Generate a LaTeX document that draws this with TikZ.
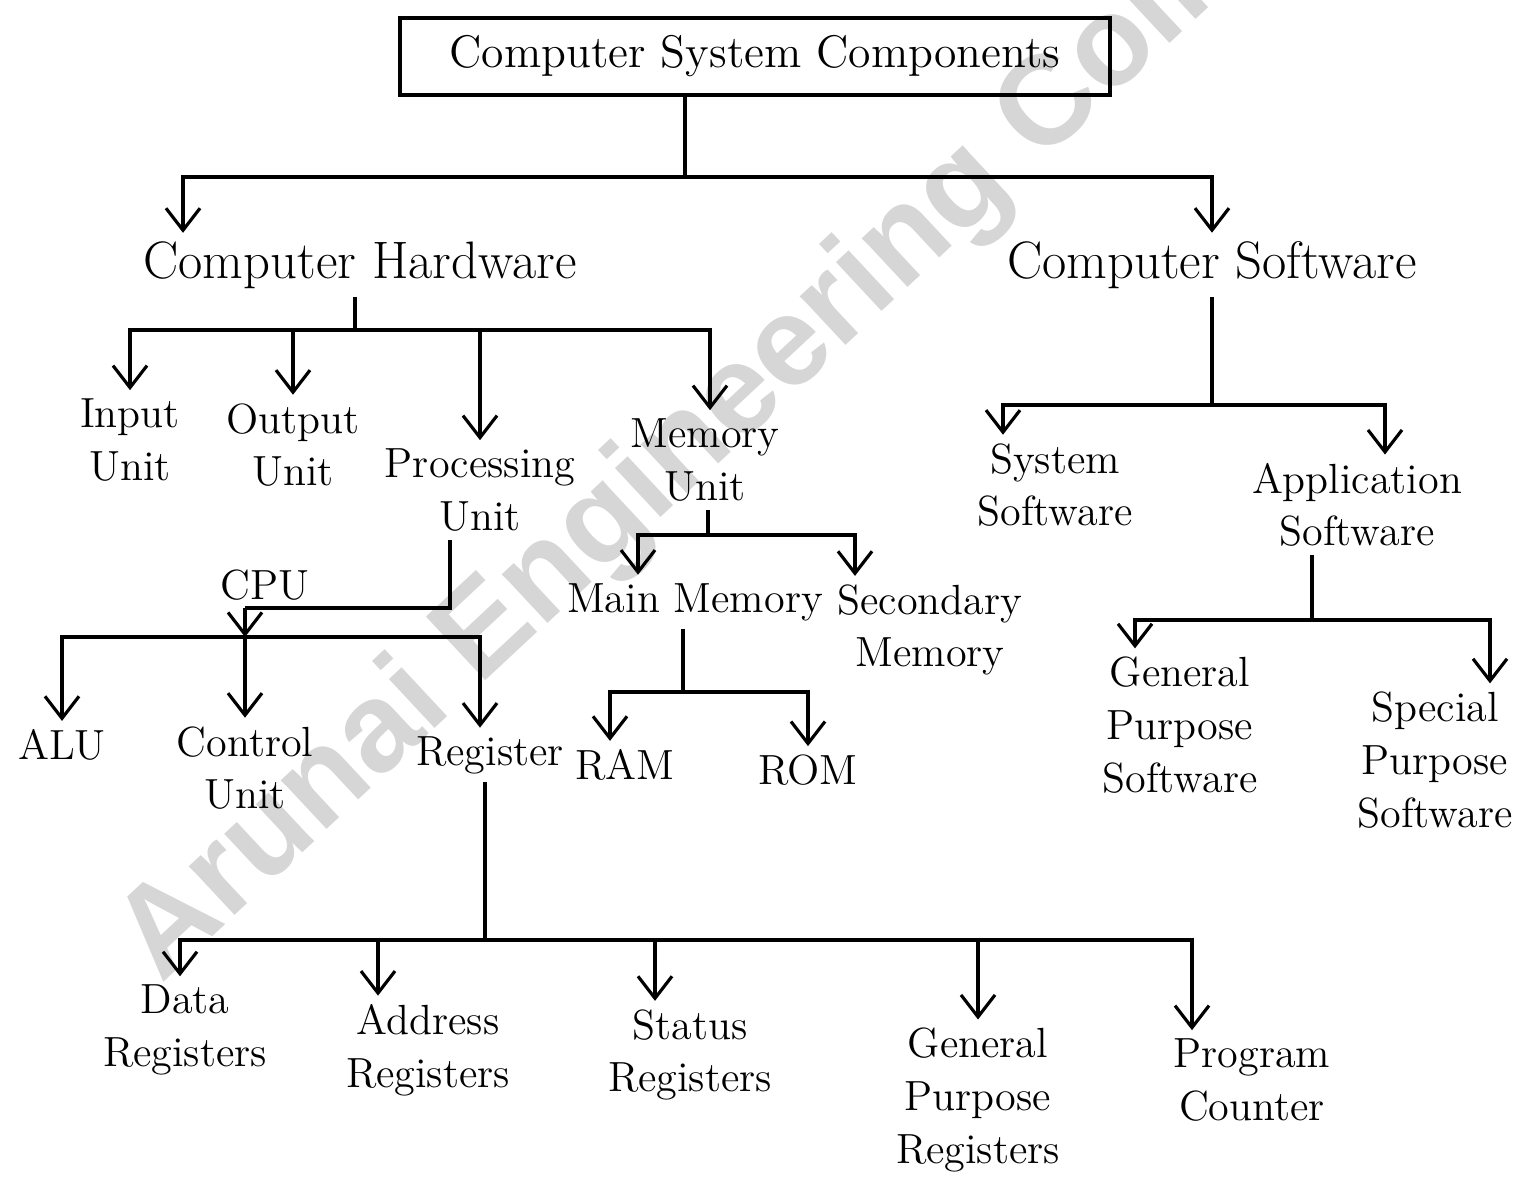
\documentclass[tikz,border=0pt]{standalone}
\usepackage{fontspec}
\setsansfont{Liberation Sans}
\usepackage{tikz}
\usetikzlibrary{arrows.meta}

\begin{document}
\begin{tikzpicture}[>={Straight Barb[length=2.2mm,width=3.4mm]}, line width=0.9pt,
  every node/.style={font=\fontsize{12}{15}\selectfont, align=center, inner sep=2pt},
  rootbox/.style={draw, rectangle, minimum width=7.1cm, minimum height=0.77cm, font=\fontsize{13}{15}\selectfont},
  bigtext/.style={font=\fontsize{15}{17}\selectfont}]

\useasboundingbox (0,0) rectangle (15.21,-11.95);

% Watermark
\begin{scope}
\clip (0,0) rectangle (15.21,-11.95);
\node[anchor=base west, rotate=43, text=black!16, font=\sffamily\bfseries\fontsize{36}{36}\selectfont] (mark) at (1.55,-9.9) {Arunai Engineering College};
\end{scope}

% Root box
\node[rootbox] (root) at (7.55,-0.565) {Computer System Components};

% Hardware / software
\node[bigtext] (hw) at (3.6,-2.65) {Computer Hardware};
\node[bigtext] (sw) at (12.12,-2.65) {Computer Software};

\coordinate (rootj) at (6.85,-1.77);
\draw (root.south -| rootj) -- (rootj);
\draw[->] (rootj) -| ([xshift=-1.77cm]hw.north);
\draw[->] (rootj) -| (sw.north);

% Hardware units
\node (in) at (1.3,-4.4) {Input\\Unit};
\node (out) at (2.93,-4.45) {Output\\Unit};
\node (proc) at (4.8,-4.9) {Processing\\Unit};
\node (mem) at (7.05,-4.6) {Memory\\Unit};

\coordinate (hwj) at (3.55,-3.3);
\draw (hw.south -| hwj) -- (hwj);
\draw[->] (hwj) -| (in.north);
\draw[->] (hwj) -| (out.north);
\draw[->] (hwj) -| (proc.north);
\draw[->] (hwj) -| ([xshift=0.05cm]mem.north);

% CPU parts
\node (cpu) at (2.65,-5.85) {CPU};
\coordinate (cpuj) at (2.45,-6.08);
\coordinate (cpubar) at (2.45,-6.37);
\draw ([xshift=-0.3cm]proc.south) |- (cpuj);
\draw[->] (cpuj) -- (cpubar);

\node (alu) at (0.62,-7.45) {ALU};
\node (cu) at (2.45,-7.68) {Control\\Unit};
\node (reg) at (4.9,-7.55) {Register};
\draw[->] (cpubar) -| (alu.north);
\draw[->] (cpubar) -- (cu.north);
\draw[->] (cpubar) -| ([xshift=-0.1cm]reg.north);

% Memory
\node (mm) at (6.95,-6.02) {Main Memory};
\node (smem) at (9.3,-6.3) {Secondary\\Memory};
\coordinate (memj) at (7.08,-5.35);
\draw (mem.south -| memj) -- (memj);
\draw[->] (memj) -| ([xshift=-0.57cm]mm.north);
\draw[->] (memj) -| ([xshift=-0.75cm]smem.north);

\node (ram) at (6.25,-7.65) {RAM};
\node (rom) at (8.08,-7.7) {ROM};
\coordinate (mmj) at (6.83,-6.92);
\draw (mm.south -| mmj) -- (mmj);
\draw[->] (mmj) -| ([xshift=-0.15cm]ram.north);
\draw[->] (mmj) -| (rom.north);

% Register types
\node (dreg) at (1.85,-10.3) {Data\\Registers};
\node (areg) at (4.28,-10.5) {Address\\Registers};
\node (streg) at (6.9,-10.55) {Status\\Registers};
\node (gpreg) at (9.78,-11.0) {General\\Purpose\\Registers};
\node (pc) at (12.52,-10.8) {Program\\Counter};

\coordinate (regj) at (4.85,-9.4);
\draw (reg.south -| regj) -- (regj);
\draw[->] (regj) -| ([xshift=-0.05cm]dreg.north);
\draw[->] (regj) -| ([xshift=-0.5cm]areg.north);
\draw[->] (regj) -| ([xshift=-0.35cm]streg.north);
\draw[->] (regj) -| (gpreg.north);
\draw[->] (regj) -| ([xshift=-0.6cm]pc.north);

% Software
\node (syssw) at (10.55,-4.85) {System\\Software};
\node (app) at (13.57,-5.05) {Application\\Software};
\coordinate (swj) at (12.12,-4.05);
\draw (sw.south) -- (swj);
\draw[->] (swj) -| ([xshift=-0.52cm]syssw.north);
\draw[->] (swj) -| ([xshift=0.28cm]app.north);

\node (gps) at (11.8,-7.25) {General\\Purpose\\Software};
\node (sps) at (14.35,-7.6) {Special\\Purpose\\Software};
\coordinate (appj) at (13.12,-6.2);
\draw (app.south -| appj) -- (appj);
\draw[->] (appj) -| ([xshift=-0.45cm]gps.north);
\draw[->] (appj) -| ([xshift=0.55cm]sps.north);
\end{tikzpicture}
\end{document}
